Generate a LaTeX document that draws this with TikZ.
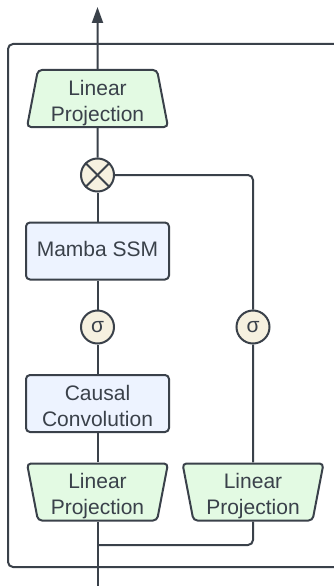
\documentclass[tikz,border=0pt]{standalone}
\usepackage{fontspec}
\setmainfont{Liberation Sans}
\usetikzlibrary{shapes.geometric,arrows.meta}
\definecolor{lc}{HTML}{3A414A}
\definecolor{gfill}{HTML}{E3FAE3}
\definecolor{bfill}{HTML}{EDF3FF}
\definecolor{cfill}{HTML}{F6F1E0}
\newcommand{\upstrut}[1]{\rule{0pt}{#1}}
\newcommand{\downstrut}[1]{\rule[-#1]{0pt}{#1}}
\tikzset{
  txt/.style={font=\fontsize{21}{26}\selectfont, text=lc, align=center},
  trap/.style={txt, trapezium, trapezium left angle=78.6, trapezium right angle=78.6,
    trapezium stretches body, minimum width=141pt, minimum height=57pt, inner sep=0pt,
    draw=lc, fill=gfill, rounded corners=4pt},
  blockbox/.style={txt, rectangle, draw=lc, fill=bfill, rounded corners=4pt,
    minimum width=143pt, minimum height=57pt, inner sep=0pt},
  opcirc/.style={txt, circle, draw=lc, fill=cfill, minimum size=33pt, inner sep=0pt},
  conn/.style={draw=lc, line width=2pt, rounded corners=5pt},
}
\begin{document}
\begin{tikzpicture}[x=1pt,y=-1pt, line width=2pt, color=lc]
\useasboundingbox (0,0) rectangle (334,586);
% outer frame (right side runs beyond the picture)
\draw[conn] (8,44) rectangle (352,567);
% nodes
\node[trap] (lpT) at (97.5,98.5) {\upstrut{24pt}Linear\\Projection};
\node[opcirc] (mul) at (97.5,175) {};
\node[blockbox] (mamba) at (97.5,251) {Mamba SSM\downstrut{4.5pt}};
\node[opcirc] (sL) at (97.5,327) {σ};
\node[opcirc] (sR) at (253,327) {σ};
\node[blockbox] (conv) at (97.5,403.5) {\upstrut{21pt}Causal\\Convolution};
\node[trap, shape border rotate=180] (lpL) at (97.5,492) {\upstrut{24pt}Linear\\Projection};
\node[trap, shape border rotate=180] (lpR) at (253,492) {\upstrut{24pt}Linear\\Projection};
\coordinate (out) at (97.5,7);
\coordinate (in) at (97.5,590);
\coordinate (j) at (97.5,545);
% cross in multiply
\draw[lc, line width=2pt] (mul.north west) -- (mul.south east);
\draw[lc, line width=2pt] (mul.north east) -- (mul.south west);
% connectors
\draw[conn, -{Triangle[length=16pt,width=11pt]}] (lpT) -- (out);
\draw[conn] (mul) -- (lpT);
\draw[conn] (mamba) -- (mul);
\draw[conn] (sL) -- (mamba);
\draw[conn] (conv) -- (sL);
\draw[conn] (lpL) -- (conv);
\draw[conn] (in) -- (lpL);
\draw[conn] (j) -| (lpR);
\draw[conn] (lpR) -- (sR);
\draw[conn] (mul.east) -| (sR);
\end{tikzpicture}
\end{document}
